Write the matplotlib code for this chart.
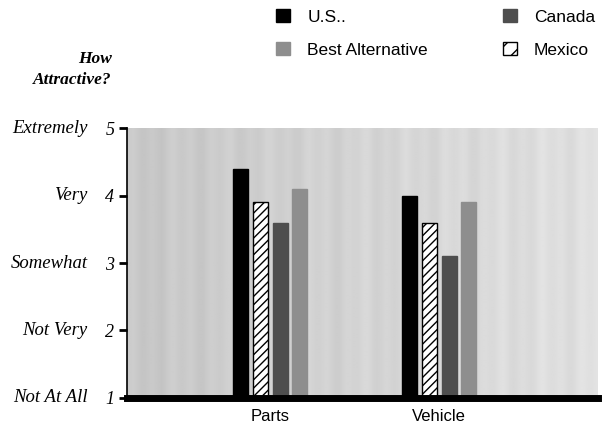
import numpy as np
import matplotlib
matplotlib.use("Agg")
import matplotlib.pyplot as plt
from matplotlib.patches import Patch
from matplotlib.transforms import blended_transform_factory

# survey answers, 1 = not at all ... 5 = extremely
groups = ["Parts", "Vehicle"]
series = ["U.S..", "Mexico", "Canada", "Best Alternative"]
us = [4.4, 4.0]
mexico = [3.9, 3.6]
canada = [3.6, 3.1]
best_alt = [4.1, 3.9]
levels = [1, 2, 3, 4, 5]
level_words = ["Not At All", "Not Very", "Somewhat", "Very", "Extremely"]

serif = "Liberation Serif"
sans = "Liberation Sans"

fig = plt.figure(figsize=(6.1, 4.34), dpi=100)
ax = fig.add_axes([0.208, 0.083, 0.772, 0.622])

# light grey backdrop, brighter towards the right, with faint vertical streaks
cols = np.arange(470)
shade = (np.linspace(0.78, 0.88, cols.size)
         + 0.012 * np.sin(cols / 3.1) + 0.01 * np.sin(cols / 7.3 + 1.0))
ax.imshow(shade.reshape(1, -1), cmap="gray", vmin=0, vmax=1, aspect="auto",
          extent=[0, 1, 0, 1], transform=ax.transAxes, zorder=0)

x = np.arange(len(groups))
w = 0.089
step = 0.1166
styles = [
    dict(color="black", edgecolor="black"),
    dict(color="white", edgecolor="black", hatch="////", linewidth=1.0),
    dict(color="#4e4e4e", edgecolor="#4e4e4e"),
    dict(color="#8e8e8e", edgecolor="#8e8e8e"),
]
for i, (vals, st) in enumerate(zip([us, mexico, canada, best_alt], styles)):
    ax.bar(x + (i - 1.5) * step, np.array(vals) - 1, width=w, bottom=1,
           zorder=2, **st)

ax.set_xlim(-0.849, 1.938)
ax.set_ylim(1, 5)
ax.set_xticks(x)
ax.set_xticklabels(groups, fontfamily=sans, fontsize=12)
ax.tick_params(axis="x", length=0, pad=8)

ax.set_yticks(levels)
ax.set_yticklabels([str(v) for v in levels], fontfamily=serif,
                   fontstyle="italic", fontsize=13)
ax.tick_params(axis="y", length=6, width=2, pad=3, color="black")

for s in ["top", "right"]:
    ax.spines[s].set_visible(False)
ax.spines["left"].set_linewidth(1.2)
ax.spines["bottom"].set_linewidth(5)
ax.spines["bottom"].set_zorder(3)

# verbal scale next to the numbers
tr = blended_transform_factory(fig.transFigure, ax.transData)
for v, word in zip(levels, level_words):
    fig.text(0.144, v, word, transform=tr, ha="right", va="center",
             fontfamily=serif, fontstyle="italic", fontsize=13.5)

fig.text(0.183, 0.865, "How", ha="right", va="center", fontfamily=serif,
         fontstyle="italic", fontweight="bold", fontsize=12.5)
fig.text(0.183, 0.815, "Attractive?", ha="right", va="center",
         fontfamily=serif, fontstyle="italic", fontweight="bold", fontsize=12.5)

handles = [
    Patch(facecolor="black", edgecolor="black", label="U.S.."),
    Patch(facecolor="#8e8e8e", edgecolor="#8e8e8e", label="Best Alternative"),
    Patch(facecolor="#4e4e4e", edgecolor="#4e4e4e", label="Canada"),
    Patch(facecolor="white", edgecolor="black", hatch="//", label="Mexico"),
]
fig.legend(handles=handles, ncol=2, frameon=False, loc="upper left",
           bbox_to_anchor=(0.427, 1.015), handlelength=0.8, handleheight=0.8,
           handletextpad=1.0, columnspacing=4.3, labelspacing=1.0,
           prop={"family": sans, "size": 12.5})

fig.savefig("out.png", dpi=100)
